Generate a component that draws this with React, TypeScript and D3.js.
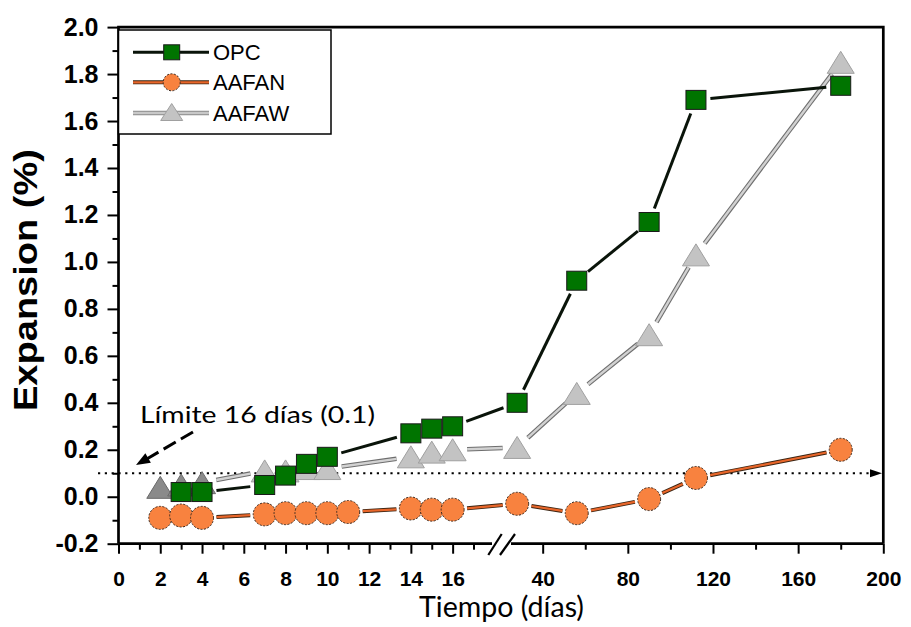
import React, { useEffect, useRef } from "react";
import * as d3 from "d3";

// Tiempo (días) y expansión (%)
const opcDays = [3, 4, 7, 8, 9, 10, 14, 15, 16, 28, 56, 90, 112, 180];
const opcValues = [0.02, 0.02, 0.05, 0.09, 0.14, 0.17, 0.27, 0.29, 0.3, 0.4, 0.92, 1.17, 1.69, 1.75];

const aafanDays = [2, 3, 4, 7, 8, 9, 10, 11, 14, 15, 16, 28, 56, 90, 112, 180];
const aafanValues = [-0.09, -0.08, -0.09, -0.075, -0.07, -0.07, -0.07, -0.065, -0.05, -0.055, -0.055, -0.03, -0.07, -0.01, 0.08, 0.2];

const aafawDays = [2, 3, 4, 7, 8, 9, 10, 14, 15, 16, 28, 56, 90, 112, 180];
const aafawValues = [0.04, 0.05, 0.06, 0.11, 0.11, 0.12, 0.12, 0.17, 0.19, 0.2, 0.21, 0.44, 0.69, 1.03, 1.85];

const xMajorTicks = [0, 2, 4, 6, 8, 10, 12, 14, 16, 40, 80, 120, 160, 200];
const xMinorTicks = [1, 3, 5, 7, 9, 11, 13, 15, 17, 60, 100, 140, 180];
const yMajorTicks = [-0.2, 0, 0.2, 0.4, 0.6, 0.8, 1.0, 1.2, 1.4, 1.6, 1.8, 2.0];
const yMinorTicks = [-0.1, 0.1, 0.3, 0.5, 0.7, 0.9, 1.1, 1.3, 1.5, 1.7, 1.9];

const limitValue = 0.1;
const darkUntilDay = 4; // los primeros triángulos salen más oscuros

const W = 911;
const H = 627;

const sansBold = "'Liberation Sans', Arial, sans-serif";

function trimmed(pts: [number, number][], gap: number) {
  const segs: [number, number][][] = [];
  for (let i = 0; i < pts.length - 1; i++) {
    const [x1, y1] = pts[i];
    const [x2, y2] = pts[i + 1];
    const L = Math.hypot(x2 - x1, y2 - y1);
    if (L <= 2 * gap + 3) continue;
    const ux = (x2 - x1) / L;
    const uy = (y2 - y1) / L;
    segs.push([
      [x1 + ux * gap, y1 + uy * gap],
      [x2 - ux * gap, y2 - uy * gap],
    ]);
  }
  return segs;
}

const triPath = "M0,-11L13.5,11L-13.5,11Z";

export default function App() {
  const ref = useRef<SVGSVGElement>(null);

  useEffect(() => {
    document.body.style.margin = "0";
    const svg = d3.select(ref.current);
    svg.selectAll("*").remove();

    // eje x partido: 0-18 y 20-200
    const x = d3.scaleLinear().domain([0, 18, 20, 200]).range([118.5, 494.4, 500.1, 883.3]);
    const y = d3.scaleLinear().domain([-0.2, 2.0]).range([543.7, 27.1]);

    const x0 = x(0), x1 = x(200), yTop = y(2.0), yBot = y(-0.2);
    const line = d3.line();

    // x axis
    const gx = svg.append("g").attr("transform", `translate(0,${yBot})`);
    gx.call(
      d3.axisBottom(x).tickValues(xMajorTicks).tickSize(10).tickPadding(17.4).tickFormat(d3.format("d"))
    );
    gx.select(".domain").remove();
    gx.selectAll("line").attr("stroke-width", 2);
    gx.selectAll("text").attr("font-family", sansBold).attr("font-weight", "bold").attr("font-size", 21).attr("fill", "#000");
    const gxm = svg.append("g").attr("transform", `translate(0,${yBot})`);
    gxm.call(d3.axisBottom(x).tickValues(xMinorTicks).tickSize(6).tickFormat(() => ""));
    gxm.select(".domain").remove();
    gxm.selectAll("line").attr("stroke-width", 2);

    // y axis
    const gy = svg.append("g").attr("transform", `translate(${x0},0)`);
    gy.call(d3.axisLeft(y).tickValues(yMajorTicks).tickSize(11).tickPadding(9).tickFormat((d) => (+d).toFixed(1)));
    gy.select(".domain").remove();
    gy.selectAll("line").attr("stroke-width", 2);
    gy.selectAll("text").attr("font-family", sansBold).attr("font-weight", "bold").attr("font-size", 25).attr("fill", "#000");
    const gym = svg.append("g").attr("transform", `translate(${x0},0)`);
    gym.call(d3.axisLeft(y).tickValues(yMinorTicks).tickSize(6).tickFormat(() => ""));
    gym.select(".domain").remove();
    gym.selectAll("line").attr("stroke-width", 2);

    // marco
    const frame = svg.append("g").attr("stroke", "#000").attr("stroke-width", 2.7).attr("fill", "none");
    frame.append("path").attr("d", line([[x0, yBot], [x0, yTop], [x1, yTop], [x1, yBot]]));
    frame.append("path").attr("d", line([[x0, yBot], [492, yBot]]));
    frame.append("path").attr("d", line([[511, yBot], [x1, yBot]]));
    const brk = svg.append("g").attr("stroke", "#000").attr("stroke-width", 2.2);
    brk.append("path").attr("d", line([[488.3, 555], [501.7, 534]]));
    brk.append("path").attr("d", line([[500, 555], [515, 534]]));

    // línea límite 0.1
    const yl = y(limitValue);
    svg.append("path")
      .attr("d", line([[98, yl], [872, yl]]))
      .attr("stroke", "#000").attr("stroke-width", 2.2).attr("stroke-dasharray", "2.2,4.6");
    svg.append("path")
      .attr("d", `M882,${yl}L870,${yl - 4}L870,${yl + 4}Z`)
      .attr("fill", "#000");

    // anotación
    svg.append("text")
      .attr("x", 140).attr("y", 422.7)
      .attr("font-family", "Lato, 'Open Sans', sans-serif")
      .attr("font-size", 24)
      .attr("textLength", 235).attr("lengthAdjust", "spacingAndGlyphs")
      .attr("fill", "#000")
      .text("Límite 16 días (0.1)");
    svg.append("path")
      .attr("d", line([[193, 432], [145, 460]]))
      .attr("stroke", "#000").attr("stroke-width", 3).attr("stroke-dasharray", "14,6");
    {
      const tip = [136, 465];
      const ang = Math.atan2(465 - 432, 136 - 193);
      const a = 14, b = 5.5;
      const bx = tip[0] - a * Math.cos(ang), by = tip[1] - a * Math.sin(ang);
      const px = -Math.sin(ang) * b, py = Math.cos(ang) * b;
      svg.append("path")
        .attr("d", `M${tip[0]},${tip[1]}L${bx + px},${by + py}L${bx - px},${by - py}Z`)
        .attr("fill", "#000");
    }

    const gap = 14.5;

    // AAFAW
    const pW = aafawDays.map((d, i) => [x(d), y(aafawValues[i])] as [number, number]);
    trimmed(pW, gap).forEach((s) => {
      svg.append("path").attr("d", line(s)).attr("stroke", "#6e6e6e").attr("stroke-width", 4.6);
      svg.append("path").attr("d", line(s)).attr("stroke", "#d2d2d2").attr("stroke-width", 2.4);
    });
    svg.selectAll(".tri").data(pW).enter().append("path")
      .attr("class", "tri")
      .attr("d", triPath)
      .attr("transform", (p) => `translate(${p[0]},${p[1]})`)
      .attr("fill", (p, i) => (aafawDays[i] <= darkUntilDay ? "#8a8a8a" : "#c3c3c3"))
      .attr("stroke", (p, i) => (aafawDays[i] <= darkUntilDay ? "#6a6a6a" : "#a0a0a0"))
      .attr("stroke-width", 1);

    // AAFAN
    const pN = aafanDays.map((d, i) => [x(d), y(aafanValues[i])] as [number, number]);
    trimmed(pN, gap).forEach((s) => {
      svg.append("path").attr("d", line(s)).attr("stroke", "#3a2412").attr("stroke-width", 4);
      svg.append("path").attr("d", line(s)).attr("stroke", "#e8662a").attr("stroke-width", 2.2);
    });
    svg.selectAll(".dot").data(pN).enter().append("circle")
      .attr("class", "dot")
      .attr("cx", (p) => p[0]).attr("cy", (p) => p[1]).attr("r", 11.5)
      .attr("fill", "#f8823f").attr("stroke", "#3a2a20").attr("stroke-width", 1)
      .attr("stroke-dasharray", "2,1.5");

    // OPC
    const pO = opcDays.map((d, i) => [x(d), y(opcValues[i])] as [number, number]);
    trimmed(pO, gap).forEach((s) => {
      svg.append("path").attr("d", line(s)).attr("stroke", "#0a140a").attr("stroke-width", 3);
    });
    svg.selectAll(".sq").data(pO).enter().append("rect")
      .attr("class", "sq")
      .attr("x", (p) => p[0] - 10).attr("y", (p) => p[1] - 9.5)
      .attr("width", 20).attr("height", 19)
      .attr("fill", "#007400").attr("stroke", "#1a1a1a").attr("stroke-width", 1);

    // leyenda
    const lg = svg.append("g");
    lg.append("rect").attr("x", 118.5).attr("y", 30).attr("width", 212.5).attr("height", 104)
      .attr("fill", "#fff").attr("stroke", "#000").attr("stroke-width", 1.5);
    const lx0 = 133, lx1 = 209, lm = 171.7;
    const rows = [52.3, 82.3, 113];
    lg.append("path").attr("d", line([[lx0, rows[0]], [lx1, rows[0]]])).attr("stroke", "#0a140a").attr("stroke-width", 3);
    lg.append("rect").attr("x", lm - 8).attr("y", rows[0] - 7.5).attr("width", 16).attr("height", 15)
      .attr("fill", "#007400").attr("stroke", "#1a1a1a");
    lg.append("path").attr("d", line([[lx0, rows[1]], [lx1, rows[1]]])).attr("stroke", "#3a2412").attr("stroke-width", 4);
    lg.append("path").attr("d", line([[lx0, rows[1]], [lx1, rows[1]]])).attr("stroke", "#e8662a").attr("stroke-width", 2.2);
    lg.append("circle").attr("cx", lm).attr("cy", rows[1]).attr("r", 8.5)
      .attr("fill", "#f8823f").attr("stroke", "#3a2a20").attr("stroke-dasharray", "2,1.5");
    lg.append("path").attr("d", line([[lx0, rows[2]], [lx1, rows[2]]])).attr("stroke", "#8a8a8a").attr("stroke-width", 4.6);
    lg.append("path").attr("d", line([[lx0, rows[2]], [lx1, rows[2]]])).attr("stroke", "#c8c8c8").attr("stroke-width", 2.6);
    lg.append("path").attr("d", "M0,-8.5L11,8.5L-11,8.5Z").attr("transform", `translate(${lm},${rows[2] - 1})`)
      .attr("fill", "#c3c3c3").attr("stroke", "#a0a0a0");
    ["OPC", "AAFAN", "AAFAW"].forEach((t, i) => {
      lg.append("text").attr("x", 213).attr("y", rows[i] + 7.6)
        .attr("font-family", "'Liberation Sans', Arial, sans-serif").attr("font-size", 22)
        .attr("fill", "#000").text(t);
    });

    // títulos
    svg.append("text")
      .attr("transform", `translate(37,280) rotate(-90)`)
      .attr("text-anchor", "middle")
      .attr("font-family", sansBold).attr("font-weight", "bold").attr("font-size", 33)
      .attr("textLength", 262).attr("lengthAdjust", "spacingAndGlyphs")
      .attr("fill", "#000")
      .text("Expansion (%)");
    svg.append("text")
      .attr("x", 501.5).attr("y", 617)
      .attr("text-anchor", "middle")
      .attr("font-family", "Lato, 'Open Sans', sans-serif").attr("font-size", 28)
      .attr("textLength", 165).attr("lengthAdjust", "spacingAndGlyphs")
      .attr("fill", "#000")
      .text("Tiempo (días)");
  }, []);

  return <svg ref={ref} width={W} height={H} style={{ display: "block", background: "#fff" }} fill="none" />;
}
